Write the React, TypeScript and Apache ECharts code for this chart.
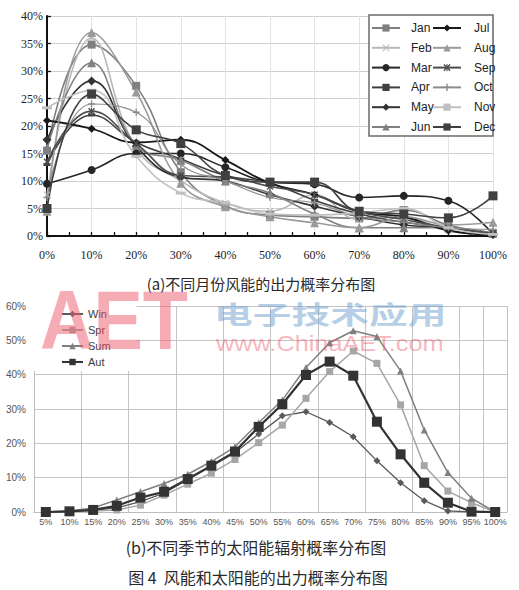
import React, { useEffect, useRef } from "react";
import * as echarts from "echarts";

// ---------- data: (a) wind power output probability by month ----------
const windX = [0, 10, 20, 30, 40, 50, 60, 70, 80, 90, 100];
const monthNames = ["Jan", "Feb", "Mar", "Apr", "May", "Jun", "Jul", "Aug", "Sep", "Oct", "Nov", "Dec"];
const jan = [15.5, 34.8, 27.3, 11.6, 5.5, 3.8, 3.5, 3.2, 4.7, 2.0, 0.5];
const feb = [7.5, 36.0, 16.0, 10.0, 6.0, 4.5, 7.5, 3.0, 3.5, 1.0, 0.3];
const mar = [9.5, 12.0, 15.0, 15.0, 12.5, 9.8, 9.4, 7.0, 7.3, 6.4, 0.3];
const apr = [13.0, 22.0, 17.0, 14.0, 11.0, 9.6, 6.5, 4.0, 2.5, 1.5, 0.5];
const may = [17.5, 28.2, 16.3, 10.7, 10.0, 7.5, 5.4, 3.5, 2.0, 1.5, 0.3];
const jun = [16.0, 31.5, 16.5, 13.8, 10.0, 7.8, 4.0, 1.5, 1.5, 1.5, 0.5];
const jul = [21.0, 19.5, 17.0, 17.5, 13.8, 9.6, 7.5, 4.4, 3.5, 1.0, 0.3];
const aug = [4.5, 37.0, 26.2, 9.6, 5.3, 3.5, 2.4, 1.5, 3.5, 2.0, 2.5];
const sep = [13.5, 22.7, 16.8, 11.0, 10.7, 9.0, 7.5, 4.4, 3.0, 1.5, 0.5];
const oct = [7.0, 24.0, 22.5, 13.0, 10.0, 7.0, 6.0, 3.5, 2.5, 1.5, 1.2];
const nov = [23.3, 26.5, 14.5, 7.8, 6.0, 4.0, 3.8, 4.2, 5.0, 1.5, 0.3];
const dec = [5.0, 25.8, 19.3, 16.8, 11.0, 9.8, 9.8, 4.5, 4.0, 3.3, 7.3];
const monthValues = [jan, feb, mar, apr, may, jun, jul, aug, sep, oct, nov, dec];

// ---------- data: (b) solar radiation probability by season ----------
const solarCats = ["5%", "10%", "15%", "20%", "25%", "30%", "35%", "40%", "45%", "50%",
  "55%", "60%", "65%", "70%", "75%", "80%", "85%", "90%", "95%", "100%"];
const seasonNames = ["Win", "Spr", "Sum", "Aut"];
const win = [0, 0.2, 0.5, 1.2, 3.0, 5.5, 9.5, 13.3, 17.3, 22.7, 28.0, 29.2, 26.1, 21.9, 14.9, 8.5, 3.3, 0.3, 0, 0];
const spr = [0, 0.2, 0.3, 0.6, 2.0, 4.9, 8.1, 11.3, 15.3, 20.2, 25.3, 33.1, 40.9, 46.9, 43.3, 31.2, 13.5, 6.1, 2.7, 0];
const sum = [0, 0.3, 1.2, 3.5, 5.9, 8.3, 11.0, 14.7, 19.0, 26.0, 32.6, 42.1, 49.3, 52.8, 51.1, 41.1, 23.9, 11.5, 4.0, 0];
const aut = [0, 0.2, 0.6, 1.8, 4.2, 5.9, 9.6, 13.5, 17.6, 24.8, 31.4, 39.9, 43.8, 39.7, 26.3, 16.8, 8.5, 2.7, 0.1, 0];
const seasonValues = [win, spr, sum, aut];

// ---------- styles ----------
const X_PATH = "path://M0,1L1,0L5,4L9,0L10,1L6,5L10,9L9,10L5,6L1,10L0,9L4,5Z";
const PLUS_PATH = "path://M4,0H6V4H10V6H6V10H4V6H0V4H4Z";
const STAR_PATH = "path://M0,1.4L1.4,0L4.3,2.9V0H5.7V2.9L8.6,0L10,1.4L6.4,5L10,8.6L8.6,10L5.7,7.1V10H4.3V7.1L1.4,10L0,8.6L3.6,5Z";
const DASH_PATH = "path://M0,0H10V3H0Z";
const monthStyles = [
  { color: "#7f7f7f", symbol: "rect", size: 8, width: 1.6 },
  { color: "#b8b8b8", symbol: X_PATH, size: 7, width: 1.6 },
  { color: "#262626", symbol: "circle", size: 8, width: 1.6 },
  { color: "#404040", symbol: DASH_PATH, size: [7, 3], width: 1.6 },
  { color: "#333333", symbol: "diamond", size: 9, width: 1.6 },
  { color: "#808080", symbol: "triangle", size: 9, width: 1.6 },
  { color: "#1a1a1a", symbol: "diamond", size: 8, width: 1.8 },
  { color: "#9a9a9a", symbol: "triangle", size: 9, width: 1.6 },
  { color: "#4d4d4d", symbol: STAR_PATH, size: 7, width: 1.6 },
  { color: "#8c8c8c", symbol: PLUS_PATH, size: 7, width: 1.2 },
  { color: "#c0c0c0", symbol: DASH_PATH, size: [10, 3], width: 1.6 },
  { color: "#404040", symbol: "rect", size: 9, width: 1.6 },
];
const seasonStyles = [
  { color: "#5a5a5a", symbol: "diamond", size: 7, width: 1.3 },
  { color: "#a6a6a6", symbol: "rect", size: 7, width: 1.5 },
  { color: "#808080", symbol: "triangle", size: 7, width: 1.5 },
  { color: "#333333", symbol: "rect", size: 10, width: 2.2 },
];

const serif = "'Liberation Serif', 'DejaVu Serif', serif";
const sans = "'Liberation Sans', Arial, sans-serif";
const narrow = "'Liberation Sans Narrow', 'Liberation Sans', Arial, sans-serif";
const cjk = "'Noto Sans CJK SC', sans-serif";

export default function App() {
  const ref = useRef<HTMLDivElement>(null);
  useEffect(() => {
    if (!ref.current) return;
    const chart = echarts.init(ref.current, null, { renderer: "svg" });

    const windSeries = monthNames.map((name, i) => {
      const st = monthStyles[i];
      return {
        name,
        type: "line",
        xAxisIndex: 0,
        yAxisIndex: 0,
        smooth: 0.45,
        symbol: st.symbol,
        symbolSize: st.size,
        lineStyle: { color: st.color, width: st.width },
        itemStyle: { color: st.color },
        data: windX.map((x, j) => [x, monthValues[i][j]]),
        z: 3,
      };
    });
    const solarSeries = seasonNames.map((name, i) => {
      const st = seasonStyles[i];
      return {
        name,
        type: "line",
        xAxisIndex: 1,
        yAxisIndex: 1,
        symbol: st.symbol,
        symbolSize: st.size,
        lineStyle: { color: st.color, width: st.width },
        itemStyle: { color: st.color },
        data: seasonValues[i],
        z: 3 + i,
      };
    });

    const topLegendCommon = {
      orient: "vertical",
      top: 21,
      padding: 0,
      itemWidth: 28,
      itemHeight: 9,
      itemGap: 5.8,
      z: 20,
      textStyle: { fontFamily: narrow, fontSize: 12, color: "#222", lineHeight: 14 },
    };

    const textEl = (
      text: string, x: number, y: number, fontSize: number, fill: string,
      fontFamily: string, align: string, extra: any = {}
    ) => ({
      type: "text",
      x,
      y,
      z: extra.z ?? 10,
      scaleX: extra.scaleX ?? 1,
      style: {
        text,
        fontFamily,
        fontSize,
        fontWeight: extra.fontWeight ?? "normal",
        lineHeight: extra.lineHeight ?? fontSize,
        fill,
        textAlign: align,
        textVerticalAlign: "middle",
        align,
        verticalAlign: "middle",
      },
    });

    chart.setOption({
      animation: false,
      backgroundColor: "#ffffff",
      grid: [
        { left: 47, top: 16, width: 446, height: 220, containLabel: false },
        { left: 34, top: 306, width: 473, height: 206, containLabel: false },
      ],
      xAxis: [
        {
          type: "value",
          gridIndex: 0,
          min: 0,
          max: 100,
          interval: 10,
          axisLine: { show: true, lineStyle: { color: "#111", width: 2 } },
          axisTick: { show: true, inside: true, length: 4, lineStyle: { color: "#111", width: 1.3 } },
          minorTick: { show: true, splitNumber: 2, length: 4, lineStyle: { color: "#111", width: 1.3 } },
          splitLine: { show: true, lineStyle: { color: "#e3e3e3", width: 1 } },
          axisLabel: { formatter: "{value}%", margin: 13, fontFamily: serif, fontSize: 12, color: "#222" },
        },
        {
          type: "category",
          gridIndex: 1,
          data: solarCats,
          boundaryGap: true,
          axisLine: { show: true, lineStyle: { color: "#bdbdbd", width: 1 } },
          axisTick: { show: false },
          splitLine: { show: true, interval: 1, lineStyle: { color: "#c4c4c4", width: 1 } },
          axisLabel: { interval: 0, margin: 5, fontFamily: sans, fontSize: 9, color: "#555" },
        },
      ],
      yAxis: [
        {
          type: "value",
          gridIndex: 0,
          min: 0,
          max: 40,
          interval: 5,
          axisLine: { show: true, lineStyle: { color: "#111", width: 2 } },
          axisTick: { show: true, inside: true, length: 4, lineStyle: { color: "#111", width: 1.3 } },
          splitLine: { show: true, lineStyle: { color: "#cfcfcf", width: 1.2 } },
          axisLabel: { formatter: "{value}%", margin: 4, fontFamily: serif, fontSize: 12, color: "#222" },
        },
        {
          type: "value",
          gridIndex: 1,
          min: 0,
          max: 60,
          interval: 10,
          axisLine: { show: true, lineStyle: { color: "#bdbdbd", width: 1 } },
          axisTick: { show: false },
          splitLine: { show: true, lineStyle: { color: "#c4c4c4", width: 1 } },
          axisLabel: { formatter: "{value}%", margin: 8, fontFamily: sans, fontSize: 10, color: "#555" },
        },
      ],
      legend: [
        {
          ...topLegendCommon,
          left: 371,
          data: monthNames.slice(0, 6),
          textStyle: { ...topLegendCommon.textStyle, padding: [0, 0, 0, 6] },
        },
        {
          ...topLegendCommon,
          left: 432,
          data: monthNames.slice(6),
          textStyle: { ...topLegendCommon.textStyle, padding: [0, 0, 0, 8] },
        },
        {
          orient: "vertical",
          left: 34,
          top: 306,
          padding: [1, 26, 2, 27],
          backgroundColor: "#ffffff",
          itemWidth: 21,
          itemHeight: 8,
          itemGap: 2,
          z: 6,
          data: seasonNames,
          textStyle: { fontFamily: sans, fontSize: 11, color: "#404040", lineHeight: 14 },
        },
      ],
      graphic: [
        {
          type: "rect",
          z: 10,
          shape: { x: 369, y: 15, width: 124, height: 121 },
          style: { fill: "#ffffff", stroke: "#6a6a6a", lineWidth: 1.5 },
        },
        textEl("(a)不同月份风能的出力概率分布图", 261, 283, 15, "#2a2a2a", cjk, "center"),
        textEl("(b)不同季节的太阳能辐射概率分布图", 256, 547, 16, "#2a2a2a", cjk, "center"),
        textEl("图 4  风能和太阳能的出力概率分布图", 258, 577, 16, "#2a2a2a", cjk, "center"),
        // watermark
        textEl("AET", 40, 320, 84, "rgba(238, 90, 105, 0.5)", sans, "left",
          { z: 30, scaleX: 0.88, fontWeight: "bold", lineHeight: 60 }),
        textEl("电子技术应用", 214, 313, 25, "rgba(110, 160, 205, 0.5)", cjk, "left",
          { z: 30, scaleX: 1.55, fontWeight: "bold", lineHeight: 25 }),
        textEl("www.ChinaAET.com", 216, 344, 22, "rgba(238, 90, 105, 0.45)", sans, "left",
          { z: 30, scaleX: 1.15, lineHeight: 22 }),
      ],
      series: [...windSeries, ...solarSeries],
    });

    return () => chart.dispose();
  }, []);

  return (
    <div
      ref={ref}
      style={{ position: "absolute", left: 0, top: 0, width: 519, height: 590, background: "#fff" }}
    />
  );
}
